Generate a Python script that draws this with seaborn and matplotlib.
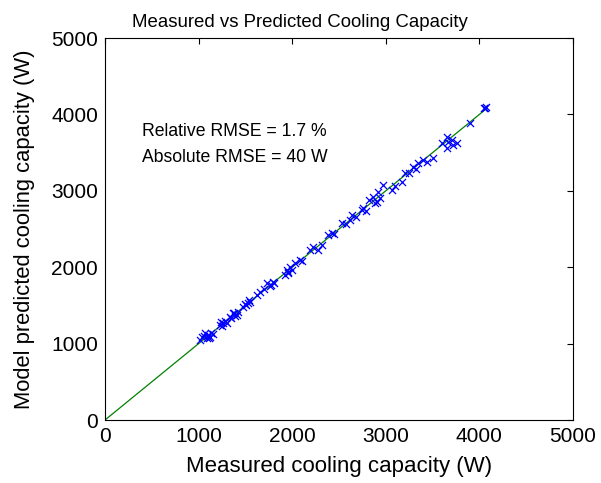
import matplotlib
matplotlib.use("Agg")
import matplotlib.pyplot as plt
import seaborn as sns
import pandas as pd

# Measured and model-predicted cooling capacity (W)
measured = [
    1015, 1040, 1068, 1086, 1100, 1122, 1130, 1150, 1060, 1110,
    1229, 1250, 1264, 1280, 1300, 1240,
    1335, 1350, 1371, 1390, 1406, 1420, 1380,
    1478, 1500, 1531, 1550, 1540, 1510,
    1620, 1656, 1700, 1727, 1760, 1798, 1810, 1770,
    1923, 1940, 1959, 1980, 2000, 1950,
    2030, 2083, 2100,
    2190, 2225, 2279, 2314,
    2386, 2421, 2450,
    2528, 2580, 2617, 2634, 2680,
    2741, 2759, 2790,
    2820, 2866, 2885, 2901, 2920, 2940,
    2973, 3062, 3100,
    3169, 3205, 3250, 3294, 3320,
    3348, 3401, 3436, 3508,
    3597, 3650, 3667, 3704, 3650, 3757, 3720,
    3900, 4050, 4060, 4070,
]
predicted = [
    1047, 1090, 1135, 1069, 1110, 1090, 1140, 1120, 1100, 1070,
    1243, 1230, 1266, 1290, 1270, 1280,
    1352, 1330, 1396, 1360, 1374, 1420, 1400,
    1483, 1520, 1527, 1540, 1570, 1500,
    1636, 1679, 1720, 1789, 1750, 1810, 1790, 1770,
    1898, 1960, 1941, 2000, 1970, 1930,
    2051, 2094, 2080,
    2225, 2268, 2225, 2291,
    2421, 2443, 2430,
    2573, 2560, 2618, 2683, 2660,
    2749, 2771, 2740,
    2880, 2923, 2836, 2857, 2990, 2900,
    3076, 3010, 3060,
    3119, 3229, 3230, 3316, 3290,
    3360, 3403, 3381, 3425,
    3621, 3556, 3643, 3665, 3708, 3621, 3600,
    3883, 4090, 4080, 4100,
]

# Diagonal reference line (perfect agreement)
diag = [0, 4080]

xticks = [0, 1000, 2000, 3000, 4000, 5000]
yticks = [0, 1000, 2000, 3000, 4000, 5000]

df = pd.DataFrame({"measured": measured, "predicted": predicted})
diag_df = pd.DataFrame({"x": diag, "y": diag})

sns.set_style("white")
plt.rcParams["font.family"] = ["Liberation Sans", "DejaVu Sans"]
plt.rcParams["text.color"] = "black"
plt.rcParams["axes.labelcolor"] = "black"

fig = plt.figure(figsize=(6.01, 4.83), dpi=100)
ax = fig.add_axes([0.1747, 0.1304, 0.7787, 0.7909])

sns.lineplot(data=diag_df, x="x", y="y", ax=ax, color=(0, 0.5, 0),
             linewidth=0.9, zorder=2)
sns.scatterplot(data=df, x="measured", y="predicted", ax=ax, marker="x",
                color=(0, 0, 1), s=26, linewidth=0.9, zorder=3)

ax.set_xlim(0, 5000)
ax.set_ylim(0, 5000)
ax.set_xticks(xticks)
ax.set_yticks(yticks)
ax.tick_params(direction="in", length=4, width=0.8, top=True, right=True,
               labelsize=15, pad=5, colors="black")
for sp in ax.spines.values():
    sp.set_color("black")
    sp.set_linewidth(0.8)

ax.set_xlabel("Measured cooling capacity (W)", fontsize=16, labelpad=7)
ax.set_ylabel("Model predicted cooling capacity (W)", fontsize=15.8, labelpad=12)
ax.set_title("Measured vs Predicted Cooling Capacity", fontsize=13.4, pad=8,
             x=0.4167)

ax.text(400, 3780, "Relative RMSE = 1.7 %", fontsize=12.7, va="center")
ax.text(400, 3430, "Absolute RMSE = 40 W", fontsize=12.7, va="center")

fig.savefig("out.png", dpi=100)
